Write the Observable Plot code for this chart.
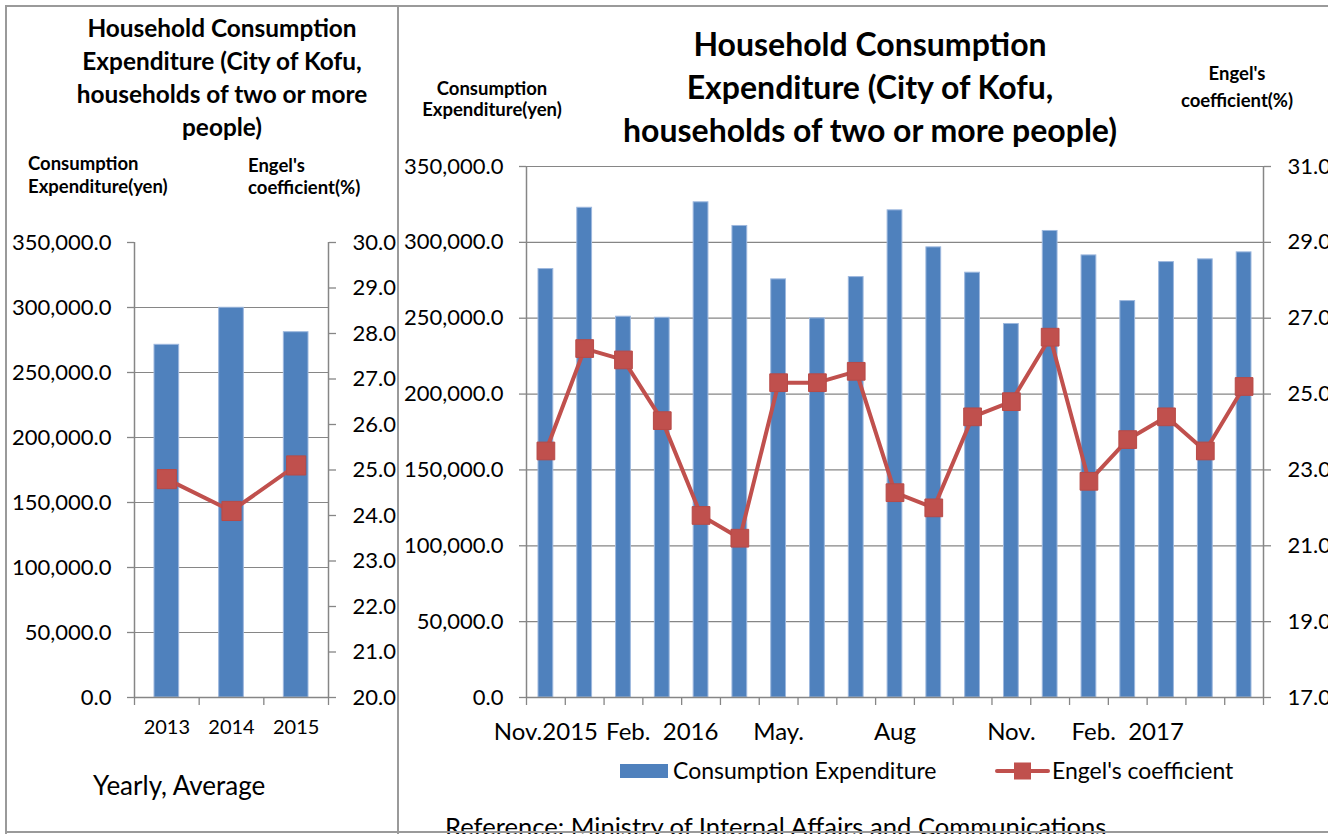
<!DOCTYPE html>
<html><head><meta charset="utf-8">
<script src="https://cdn.jsdelivr.net/npm/d3@7"></script>
<script src="https://cdn.jsdelivr.net/npm/@observablehq/plot@0.6"></script>
<style>
html,body{margin:0;padding:0;background:#fff;}
body{width:1328px;height:834px;overflow:hidden;position:relative;font-family:Lato,"Open Sans",sans-serif;color:#000;}
.abs{position:absolute;}
.t{font-weight:bold;text-align:center;white-space:nowrap;}
.line{background:#9a9a9a;position:absolute;z-index:5;}
</style></head><body>

<div class="abs" id="leftChart" style="left:0;top:200px;width:400px;height:560px;"></div>
<div class="abs" id="rightChart" style="left:400px;top:140px;width:928px;height:600px;"></div>

<div class="abs t" style="left:72px;top:11px;width:300px;font-size:24.4px;line-height:33px;">Household Consumption<br>Expenditure (City of Kofu,<br>households of two or more<br>people)</div>
<div class="abs" style="left:28px;top:152px;font-size:18.5px;line-height:23px;font-weight:bold;white-space:nowrap;">Consumption<br>Expenditure(yen)</div>
<div class="abs" style="left:248px;top:154px;font-size:18.5px;line-height:22px;font-weight:bold;white-space:nowrap;">Engel's<br>coefficient(%)</div>
<div class="abs" style="left:93px;top:772px;font-size:26px;line-height:1;white-space:nowrap;">Yearly, Average</div>

<div class="abs t" style="left:570px;top:21.5px;width:600px;font-size:32px;line-height:43px;">Household Consumption<br>Expenditure (City of Kofu,<br>households of two or more people)</div>
<div class="abs t" style="left:392px;top:78px;width:200px;font-size:18.5px;line-height:21px;">Consumption<br>Expenditure(yen)</div>
<div class="abs t" style="left:1137px;top:60px;width:200px;font-size:18.5px;line-height:27px;">Engel's<br>coefficient(%)</div>

<div class="abs" id="legend" style="left:0;top:0;"></div>

<div class="abs" style="left:445px;top:813.5px;font-size:25.6px;line-height:1;white-space:nowrap;">Reference: Ministry of Internal Affairs and Communications</div>

<div class="line" style="left:5px;top:5px;width:1330px;height:2px;"></div>
<div class="line" style="left:5px;top:5px;width:2px;height:830px;"></div>
<div class="line" style="left:397px;top:5px;width:2px;height:830px;"></div>
<div class="line" style="left:5px;top:831px;width:1330px;height:2px;"></div>

<script>
// ---------- data ----------
const years = ["2013", "2014", "2015"];
const yearLabels = ["2013", "2014", "2015"];
const yearlyExpenditure = [271300, 299800, 281000];
const yearlyEngel = [24.8, 24.1, 25.1];

const months = ["2015-11","2015-12","2016-01","2016-02","2016-03","2016-04","2016-05","2016-06","2016-07","2016-08",
                "2016-09","2016-10","2016-11","2016-12","2017-01","2017-02","2017-03","2017-04","2017-05"];
const monthLabels = ["Nov.2015","","","Feb.\u00a0\u00a02016","","","May.","","","Aug","","","Nov.","","","Feb.\u00a0\u00a02017","","",""];
const monthlyExpenditure = [282400,322800,251000,250300,326400,310800,275600,249900,277100,321100,
                            296700,280000,246200,307500,291400,261300,287000,288800,293400];
const monthlyEngel = [23.5,26.2,25.9,24.3,21.8,21.2,25.3,25.3,25.6,22.4,22.0,24.4,24.8,26.5,22.7,23.8,24.4,23.5,25.2];

const expenditureTicks = [0, 50000, 100000, 150000, 200000, 250000, 300000, 350000];
const yearlyGrid = [0, 50000, 100000, 150000, 200000, 250000, 300000];
const monthlyGrid = [0, 50000, 100000, 150000, 200000, 250000, 300000, 350000];
const yearlyEngelTicks = [20, 21, 22, 23, 24, 25, 26, 27, 28, 29, 30];
const monthlyEngelTicks = [17, 19, 21, 23, 25, 27, 29, 31];

const BLUE = "#4F81BD", RED = "#C0504D", GRAY = "#868686";

function makePair(el, o) {
  const n = o.cats.length;
  const rows = o.cats.map((c, i) => ({i, cat: c, exp: o.exp[i], engel: o.engel[i]}));
  const common = {
    width: o.width, height: o.height,
    marginTop: o.mt, marginBottom: o.mb, marginLeft: o.ml, marginRight: o.mr,
    style: {fontFamily: "Lato, sans-serif", fontSize: "22px", background: "transparent", overflow: "visible",
            position: "absolute", left: "0px", top: "0px", maxWidth: "none", color: "#000"}
  };
  const p1 = Plot.plot({
    ...common,
    x: {type: "linear", domain: [0, n]},
    y: {domain: [0, 350000]},
    marks: [
      Plot.gridY(o.grid, {stroke: GRAY, strokeOpacity: 1, strokeWidth: 1.2}),
      Plot.rectY(rows, {x1: d => d.i, x2: d => d.i + 1, y: "exp", insetLeft: o.inset, insetRight: o.inset,
                        fill: BLUE, stroke: "#9db8de", strokeWidth: 1}),
      Plot.ruleX([0, n], {stroke: GRAY, strokeWidth: 1.5}),
      Plot.ruleY([0], {stroke: GRAY, strokeWidth: 1.5}),
      Plot.axisY({anchor: "left", ticks: expenditureTicks, tickFormat: d3.format(",.1f"), tickSize: 7, tickPadding: 16,
                  stroke: GRAY, strokeWidth: 1.3, fill: "#000", label: null, fontSize: 22}),
      Plot.axisX({ticks: d3.range(n + 1), tickSize: 8, tickFormat: () => "", stroke: GRAY, strokeWidth: 1.3, label: null}),
      Plot.axisX({ticks: rows.map(d => d.i + 0.5), tickSize: 0, tickPadding: o.labelPad,
                  tickFormat: v => o.labels[Math.floor(v)], fill: "#000", label: null, fontSize: o.labelSize})
    ]
  });
  const p2 = Plot.plot({
    ...common,
    x: {type: "linear", domain: [0, n], axis: null},
    y: {domain: o.engelDomain},
    marks: [
      Plot.axisY({anchor: "right", ticks: o.engelTicks, tickFormat: d3.format(".1f"), tickSize: 7, tickPadding: 17,
                  stroke: GRAY, strokeWidth: 1.3, fill: "#000", label: null, fontSize: 22}),
      Plot.line(rows, {x: d => d.i + 0.5, y: "engel", stroke: RED, strokeWidth: 4}),
      Plot.dot(rows, {x: d => d.i + 0.5, y: "engel", symbol: "square", r: o.r, fill: RED, stroke: "#b84a47", strokeWidth: 1})
    ]
  });
  el.appendChild(p1);
  el.appendChild(p2);
}

makePair(document.getElementById("leftChart"), {
  cats: years, labels: yearLabels, exp: yearlyExpenditure, engel: yearlyEngel,
  grid: yearlyGrid, engelDomain: [20, 30], engelTicks: yearlyEngelTicks,
  width: 400, height: 560, mt: 42, mb: 63, ml: 134, mr: 72,
  inset: 20, r: 10.8, labelSize: 20, labelPad: 22
});

makePair(document.getElementById("rightChart"), {
  cats: months, labels: monthLabels, exp: monthlyExpenditure, engel: monthlyEngel,
  grid: monthlyGrid, engelDomain: [17, 31], engelTicks: monthlyEngelTicks,
  width: 928, height: 600, mt: 26, mb: 43, ml: 126, mr: 65,
  inset: 12, r: 10, labelSize: 24, labelPad: 25
});

// ---------- legend ----------
const legend = document.getElementById("legend");
legend.innerHTML = `
  <div class="abs" style="left:620px;top:764px;width:48px;height:14px;background:${BLUE};"></div>
  <div class="abs" style="left:673px;top:759px;font-size:23px;line-height:1;white-space:nowrap;">Consumption Expenditure</div>
  <svg class="abs" style="left:995px;top:760px;" width="56" height="22">
    <line x1="2" y1="11" x2="53" y2="11" stroke="${RED}" stroke-width="4" stroke-linecap="round"/>
    <rect x="19" y="2.5" width="17" height="17" fill="${RED}"/>
  </svg>
  <div class="abs" style="left:1052px;top:759px;font-size:23px;line-height:1;white-space:nowrap;">Engel's coefficient</div>
`;
</script>
</body></html>
